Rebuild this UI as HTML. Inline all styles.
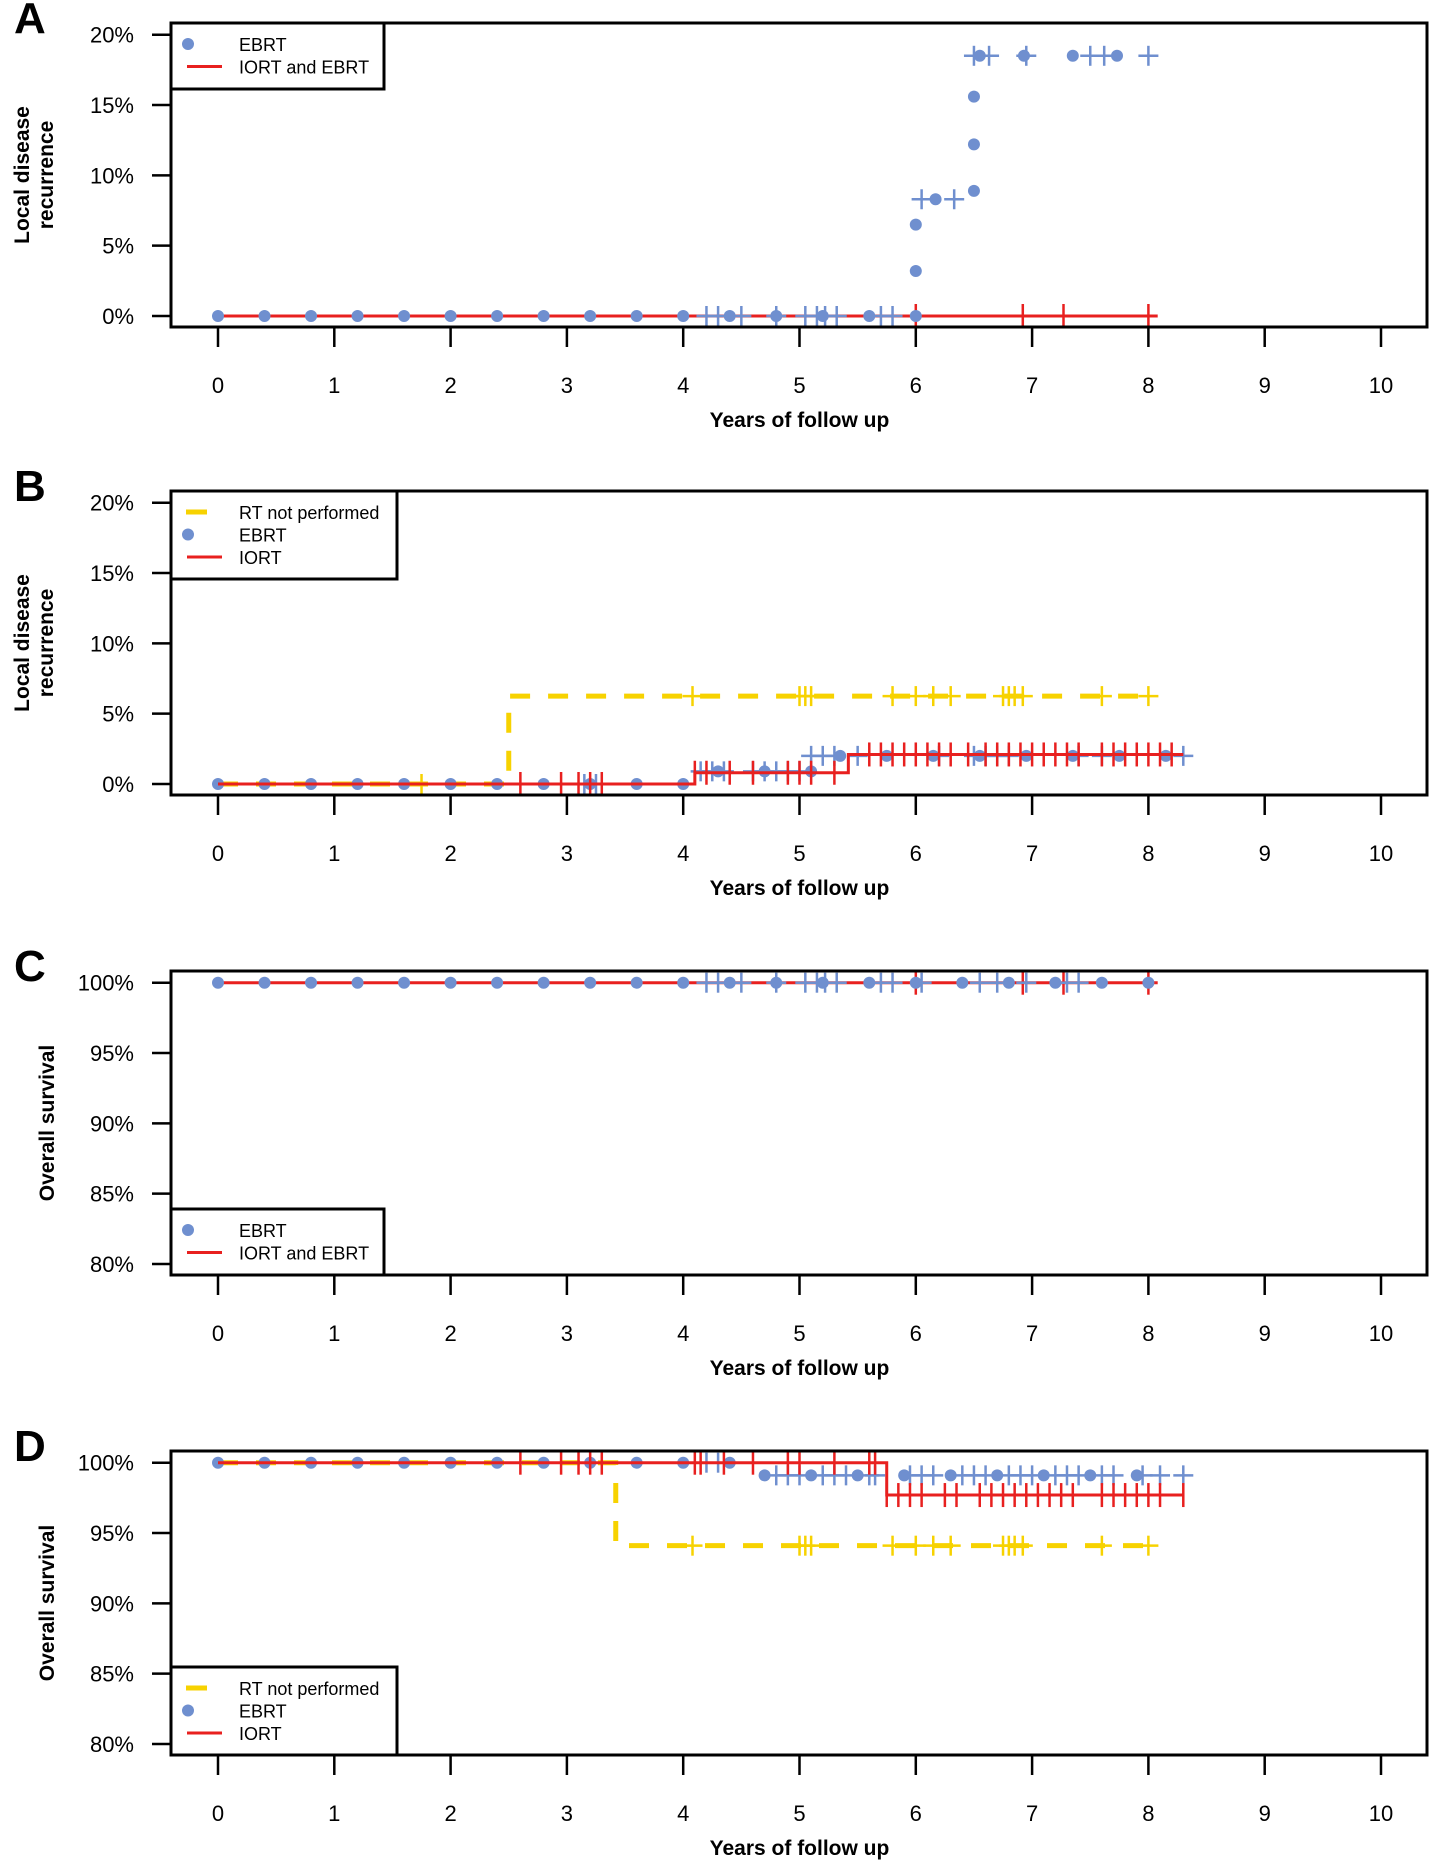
<!DOCTYPE html>
<html><head><meta charset="utf-8"><style>
html,body{margin:0;padding:0;background:#fff;}
svg{display:block;font-family:"Liberation Sans",Arial,sans-serif;}
</style></head><body>
<svg id="fig" width="1441" height="1872" viewBox="0 0 1441 1872" xmlns="http://www.w3.org/2000/svg"></svg>
<script>
// ---------- data ----------
const xTicks=[0,1,2,3,4,5,6,7,8,9,10];
const yTicksLDR=["0%","5%","10%","15%","20%"];
const yValsLDR=[0,5,10,15,20];
const yTicksOS=["80%","85%","90%","95%","100%"];
const yValsOS=[80,85,90,95,100];

// Panel A
const aEbrtTimes=[0,6.0,6.5];
const aEbrtVals=[0,8.3,18.5];
const aEbrtEnd=8.0;
const aEbrtDots=[[0,0],[0.4,0],[0.8,0],[1.2,0],[1.6,0],[2,0],[2.4,0],[2.8,0],[3.2,0],[3.6,0],[4,0],[4.4,0],[4.8,0],[5.2,0],[5.6,0],[6,0],[6,3.2],[6,6.5],[6.17,8.3],[6.5,8.9],[6.5,12.2],[6.5,15.6],[6.55,18.5],[6.93,18.5],[7.35,18.5],[7.73,18.5]];
const aEbrtCens=[4.2,4.3,4.5,4.8,5.05,5.15,5.22,5.32,5.7,5.8,6.05,6.33,6.5,6.63,6.95,7.5,7.62,8.0];
const aIortTimes=[0];
const aIortVals=[0];
const aIortEnd=8.08;
const aIortCens=[6.0,6.92,7.27,8.0];

// Panel B
const bRtTimes=[0,2.5];
const bRtVals=[0,6.25];
const bRtEnd=8.0;
const bRtCens=[1.75,4.08,5.0,5.05,5.1,5.8,6.0,6.15,6.3,6.75,6.8,6.85,6.92,7.6,8.0];
const bEbrtTimes=[0,4.05,5.1];
const bEbrtVals=[0,0.9,2.0];
const bEbrtEnd=8.3;
const bEbrtDots=[[0,0],[0.4,0],[0.8,0],[1.2,0],[1.6,0],[2,0],[2.4,0],[2.8,0],[3.2,0],[3.6,0],[4,0],[4.3,0.9],[4.7,0.9],[5.1,0.9],[5.35,2.0],[5.75,2.0],[6.15,2.0],[6.55,2.0],[6.95,2.0],[7.35,2.0],[7.75,2.0],[8.15,2.0]];
const bEbrtCens=[3.15,3.25,4.15,4.25,4.35,4.6,4.7,4.8,4.9,5.0,5.1,5.2,5.3,5.5,6.2,6.5,6.6,6.7,6.8,7.4,7.6,8.3];
const bIortTimes=[0,4.1,5.42];
const bIortVals=[0,0.8,2.1];
const bIortEnd=8.3;
const bIortCens=[2.6,2.95,3.1,3.2,3.3,4.1,4.2,4.4,4.6,4.9,5.0,5.1,5.3,5.6,5.7,5.8,5.9,6.0,6.1,6.2,6.3,6.45,6.6,6.7,6.8,6.9,7.0,7.1,7.2,7.3,7.4,7.6,7.7,7.8,7.9,8.0,8.1,8.2];

// Panel C
const cEbrtTimes=[0];
const cEbrtVals=[100];
const cEbrtEnd=8.0;
const cEbrtDots=[[0,100],[0.4,100],[0.8,100],[1.2,100],[1.6,100],[2,100],[2.4,100],[2.8,100],[3.2,100],[3.6,100],[4,100],[4.4,100],[4.8,100],[5.2,100],[5.6,100],[6,100],[6.4,100],[6.8,100],[7.2,100],[7.6,100],[8,100]];
const cEbrtCens=[4.2,4.3,4.5,4.8,5.05,5.15,5.22,5.32,5.7,5.8,6.05,6.55,6.7,6.95,7.3,7.4];
const cIortTimes=[0];
const cIortVals=[100];
const cIortEnd=8.08;
const cIortCens=[6.0,6.92,7.27,8.0];

// Panel D
const dRtTimes=[0,3.42];
const dRtVals=[100,94.1];
const dRtEnd=8.0;
const dRtCens=[4.08,5.0,5.05,5.1,5.8,6.0,6.15,6.3,6.75,6.8,6.85,6.92,7.6,8.0];
const dEbrtTimes=[0,4.65];
const dEbrtVals=[100,99.1];
const dEbrtEnd=8.3;
const dEbrtDots=[[0,100],[0.4,100],[0.8,100],[1.2,100],[1.6,100],[2,100],[2.4,100],[2.8,100],[3.2,100],[3.6,100],[4,100],[4.4,100],[4.7,99.1],[5.1,99.1],[5.5,99.1],[5.9,99.1],[6.3,99.1],[6.7,99.1],[7.1,99.1],[7.5,99.1],[7.9,99.1]];
const dEbrtCens=[4.2,4.3,4.8,4.9,5.0,5.2,5.3,5.4,5.6,5.65,5.95,6.05,6.15,6.4,6.5,6.6,6.8,6.9,7.0,7.2,7.3,7.4,7.6,7.7,7.95,8.1,8.3];
const dIortTimes=[0,5.75];
const dIortVals=[100,97.7];
const dIortEnd=8.3;
const dIortCens=[2.6,2.95,3.1,3.2,3.3,4.1,4.15,4.35,4.6,4.9,5.0,5.3,5.6,5.65,5.75,5.85,5.95,6.05,6.25,6.35,6.55,6.65,6.75,6.85,6.95,7.05,7.15,7.25,7.35,7.6,7.7,7.8,7.9,8.0,8.1,8.3];

// ---------- drawing ----------
const NS="http://www.w3.org/2000/svg";
const svg=document.getElementById('fig');
const BLUE="#6f8fcf", RED="#e8201f", YEL="#f7d200";
function el(tag,attrs,parent){const e=document.createElementNS(NS,tag);for(const k in attrs)e.setAttribute(k,attrs[k]);(parent||svg).appendChild(e);return e;}
function txt(s,attrs,parent){const t=el('text',attrs,parent);t.textContent=s;return t;}

const L=171,R=1427,H=304;
const xS=t=>218+t*116.3;
function stepVal(times,vals,t){let v=vals[0];for(let i=0;i<times.length;i++){if(t>=times[i])v=vals[i];}return v;}
function stepPath(times,vals,end,yS){let d=`M${xS(times[0])},${yS(vals[0])}`;for(let i=1;i<times.length;i++){d+=`L${xS(times[i])},${yS(vals[i-1])}L${xS(times[i])},${yS(vals[i])}`;}d+=`L${xS(end)},${yS(vals[vals.length-1])}`;return d;}

function panel(cfg){
  const top=cfg.top, bot=top+H;
  const g=el('g',{});
  
  
  const [lo,hi]=cfg.range;
  const yS=v=>top+11.7+(hi-v)/(hi-lo)*281.3;
  const lt=txt(cfg.letter,{x:14,y:top+10,'font-size':44,'font-weight':'bold'},g);
  
  const yg=el('g',{},g);
  cfg.yVals.forEach((v,i)=>{
    el('line',{x1:152,x2:L,y1:yS(v),y2:yS(v),stroke:'#000','stroke-width':2.5},yg);
    const t=txt(cfg.yLabels[i],{x:134,y:yS(v)+8,'font-size':22,'text-anchor':'end'},yg);
    
  });
  const cy=top+H/2;
  if(cfg.yTitle.length===2){
    const t1=txt(cfg.yTitle[0],{x:0,y:0,'font-size':21,'font-weight':'bold','text-anchor':'middle',transform:`translate(29,${cy}) rotate(-90)`},g);
    
    const t2=txt(cfg.yTitle[1],{x:0,y:0,'font-size':21,'font-weight':'bold','text-anchor':'middle',transform:`translate(53,${cy}) rotate(-90)`},g);
    
  } else {
    const t1=txt(cfg.yTitle[0],{x:0,y:0,'font-size':21,'font-weight':'bold','text-anchor':'middle',transform:`translate(54,${cy}) rotate(-90)`},g);
    
  }
  const xg=el('g',{},g);
  xTicks.forEach(v=>{
    el('line',{x1:xS(v),x2:xS(v),y1:bot,y2:bot+20,stroke:'#000','stroke-width':2.5},xg);
    const t=txt(String(v),{x:xS(v),y:bot+66,'font-size':22,'text-anchor':'middle'},xg);
    
  });
  const xt=txt('Years of follow up',{x:xS(5),y:bot+100,'font-size':21,'font-weight':'bold','text-anchor':'middle'},g);
  
  const cross=(parent,x,y,col,w)=>{el('line',{x1:x-10,x2:x+10,y1:y,y2:y,stroke:col,'stroke-width':w},parent);el('line',{x1:x,x2:x,y1:y-10,y2:y+10,stroke:col,'stroke-width':w},parent);};
  cfg.series.forEach(s=>{
    const sg=el('g',{},g);
    
    
    if(s.type==='rt'){
      el('path',{d:stepPath(s.times,s.vals,s.end,yS),fill:'none',stroke:YEL,'stroke-width':5,'stroke-dasharray':'20,18'},sg);
      s.cens.forEach(c=>cross(sg,xS(c),yS(stepVal(s.times,s.vals,c)),YEL,2.5));
    } else if(s.type==='ebrt'){
      s.cens.forEach(c=>cross(sg,xS(c),yS(stepVal(s.times,s.vals,c)),BLUE,2.5));
      s.dots.forEach(d=>el('circle',{cx:xS(d[0]),cy:yS(d[1]),r:6,fill:BLUE},sg));
    } else {
      el('path',{d:stepPath(s.times,s.vals,s.end,yS),fill:'none',stroke:RED,'stroke-width':3},sg);
      s.cens.forEach(c=>{const y=yS(stepVal(s.times,s.vals,c));el('line',{x1:xS(c),x2:xS(c),y1:y-12,y2:y+12,stroke:RED,'stroke-width':2.5},sg);});
    }
  });
  const fr=el('rect',{x:L,y:top,width:R-L,height:H,fill:'none',stroke:'#000','stroke-width':3},g);
  
  const lg=el('g',{},g);
  const lb=cfg.legend;
  const ly=lb.bottom? bot-lb.h : top;
  el('rect',{x:L,y:ly,width:lb.w,height:lb.h,fill:'#fff',stroke:'#000','stroke-width':3},lg);
  lb.items.forEach((it,i)=>{
    const rowY=ly+21+i*22.5;
    const eg=el('g',{},lg);
    if(it.k==='rt')el('line',{x1:186,x2:207,y1:rowY,y2:rowY,stroke:YEL,'stroke-width':5},eg);
    else if(it.k==='ebrt')el('circle',{cx:188,cy:rowY,r:6,fill:BLUE},eg);
    else el('line',{x1:187,x2:222,y1:rowY,y2:rowY,stroke:RED,'stroke-width':3},eg);
    txt(it.t,{x:239,y:rowY+7,'font-size':18},eg);
  });
}

const L3=[{k:'rt',t:'RT not performed'},{k:'ebrt',t:'EBRT'},{k:'iort',t:'IORT'}];
const L2=[{k:'ebrt',t:'EBRT'},{k:'iort',t:'IORT and EBRT'}];
panel({name:'panel-a',letter:'A',top:23,range:[0,20],yVals:yValsLDR,yLabels:yTicksLDR,yTitle:['Local disease','recurrence'],
  legend:{w:213,h:66,items:L2},
  series:[{name:'series-iort-ebrt',type:'iort',times:aIortTimes,vals:aIortVals,end:aIortEnd,cens:aIortCens},
          {name:'series-ebrt',type:'ebrt',times:aEbrtTimes,vals:aEbrtVals,end:aEbrtEnd,cens:aEbrtCens,dots:aEbrtDots}]});
panel({name:'panel-b',letter:'B',top:491,range:[0,20],yVals:yValsLDR,yLabels:yTicksLDR,yTitle:['Local disease','recurrence'],
  legend:{w:226,h:88,items:L3},
  series:[{name:'series-rt-not-performed',type:'rt',times:bRtTimes,vals:bRtVals,end:bRtEnd,cens:bRtCens},
          {name:'series-ebrt',type:'ebrt',times:bEbrtTimes,vals:bEbrtVals,end:bEbrtEnd,cens:bEbrtCens,dots:bEbrtDots},
          {name:'series-iort',type:'iort',times:bIortTimes,vals:bIortVals,end:bIortEnd,cens:bIortCens}]});
panel({name:'panel-c',letter:'C',top:971,range:[80,100],yVals:yValsOS,yLabels:yTicksOS,yTitle:['Overall survival'],
  legend:{w:213,h:66,bottom:true,items:L2},
  series:[{name:'series-iort-ebrt',type:'iort',times:cIortTimes,vals:cIortVals,end:cIortEnd,cens:cIortCens},
          {name:'series-ebrt',type:'ebrt',times:cEbrtTimes,vals:cEbrtVals,end:cEbrtEnd,cens:cEbrtCens,dots:cEbrtDots}]});
panel({name:'panel-d',letter:'D',top:1451,range:[80,100],yVals:yValsOS,yLabels:yTicksOS,yTitle:['Overall survival'],
  legend:{w:226,h:88,bottom:true,items:L3},
  series:[{name:'series-rt-not-performed',type:'rt',times:dRtTimes,vals:dRtVals,end:dRtEnd,cens:dRtCens},
          {name:'series-ebrt',type:'ebrt',times:dEbrtTimes,vals:dEbrtVals,end:dEbrtEnd,cens:dEbrtCens,dots:dEbrtDots},
          {name:'series-iort',type:'iort',times:dIortTimes,vals:dIortVals,end:dIortEnd,cens:dIortCens}]});
</script>
</body></html>
